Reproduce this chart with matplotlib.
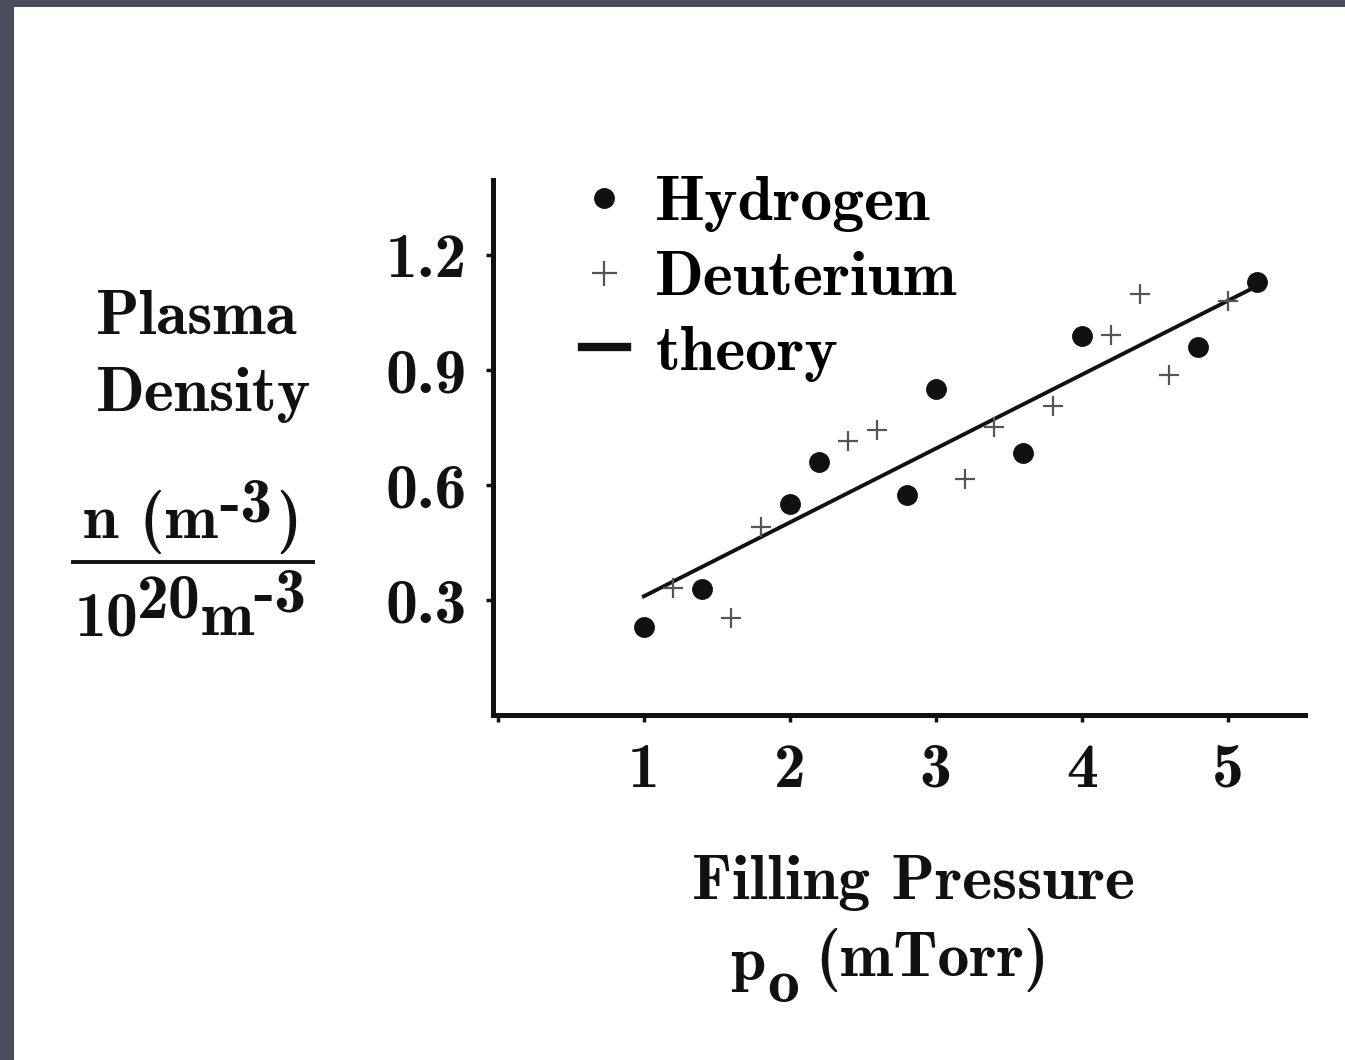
import matplotlib
matplotlib.use('Agg')
import matplotlib.pyplot as plt
from matplotlib.lines import Line2D
from matplotlib.patches import Rectangle

# data
h_x = [1.0, 1.4, 2.0, 2.2, 2.8, 3.0, 3.6, 4.0, 4.8, 5.2]
h_y = [0.23, 0.33, 0.55, 0.66, 0.575, 0.85, 0.685, 0.99, 0.96, 1.13]
d_x = [1.2, 1.6, 1.8, 2.4, 2.6, 3.2, 3.4, 3.8, 4.2, 4.4, 4.6, 5.0]
d_y = [0.332, 0.253, 0.49, 0.716, 0.744, 0.615, 0.753, 0.807, 0.993, 1.10, 0.888, 1.08]
theory_x = [1.0, 5.2]
theory_y = [0.31, 1.12]
x_ticks = [0, 1, 2, 3, 4, 5]
x_labels = ['', '1', '2', '3', '4', '5']
y_ticks = [0.3, 0.6, 0.9, 1.2]
y_labels = ['0.3', '0.6', '0.9', '1.2']

plt.rcParams['font.family'] = ['cmb10', 'DejaVu Serif']
plt.rcParams['axes.unicode_minus'] = False

W, H = 1345, 1060
fs = 46
ink = '#111111'
fig = plt.figure(figsize=(W / 100, H / 100), dpi=100)
fig.patch.set_facecolor('#4a4e5c')
# white page inside the dark frame
fig.add_artist(Rectangle((14 / W, 0), 1, 1 - 7 / H, transform=fig.transFigure,
                         facecolor='white', edgecolor='none', zorder=-10))

ax = fig.add_axes([493 / W, 1 - 715 / H, (1305 - 493) / W, (715 - 180) / H])
ax.set_facecolor('none')

ax.plot(theory_x, theory_y, color=ink, lw=2.8, label='theory', zorder=2)
ax.plot(h_x, h_y, 'o', color=ink, ms=14, label='Hydrogen', zorder=3)
ax.plot(d_x, d_y, '+', color='#555555', ms=15, mew=1.6, label='Deuterium', zorder=3)

ax.set_xlim(-0.034, 5.53)
ax.set_ylim(0, 1.397)

for s in ['top', 'right']:
    ax.spines[s].set_visible(False)
for s in ['left', 'bottom']:
    ax.spines[s].set_linewidth(3.6)
    ax.spines[s].set_color(ink)

ax.set_xticks(x_ticks)
ax.set_xticklabels(x_labels)
ax.set_yticks(y_ticks)
ax.set_yticklabels(y_labels)
ax.tick_params(axis='both', direction='out', length=5, width=2.5, color=ink,
               labelsize=fs, labelcolor=ink)
ax.tick_params(axis='x', pad=15)
ax.tick_params(axis='y', pad=14)

# legend in the order of the reference
hs, ls = ax.get_legend_handles_labels()
order = [1, 2, 0]
leg = ax.legend([hs[i] for i in order], [ls[i] for i in order], loc='upper left',
                bbox_to_anchor=(0.07, 1.068), frameon=False, fontsize=fs,
                handlelength=0.7, handletextpad=0.45, labelspacing=0.28, borderpad=0)
leg.get_lines()[2].set_linewidth(6)
leg.legend_handles[1].set_markersize(18)


# text pieces on one baseline, raised or lowered by dy pixels
def chain(x, y, pieces):
    prev = fig.text(x / W, 1 - y / H, pieces[0][0], fontsize=fs, color=ink,
                    ha='left', va='baseline')
    last_dy = 0
    for s, gap, dy in pieces[1:]:
        prev = ax.annotate(s, xy=(1, 0), xycoords=prev, xytext=(gap * 0.72, (dy - last_dy) * 0.72),
                           textcoords='offset points', fontsize=fs, color=ink,
                           ha='left', va='bottom', annotation_clip=False)
        last_dy = dy


# y label
fig.text(197 / W, 1 - 318 / H, 'Plasma', fontsize=fs, ha='center', va='center', color=ink)
fig.text(204 / W, 1 - 395 / H, 'Density', fontsize=fs, ha='center', va='center', color=ink)
chain(83, 538, [('n (m', 0, 0), ('-3', 1, 21), (')', 4, 0)])
fig.add_artist(Line2D([73 / W, 313 / W], [1 - 562 / H, 1 - 562 / H],
                      transform=fig.transFigure, color=ink, lw=2.8))
chain(75, 635, [('10', 0, 0), ('20', -2, 18), ('m', 0, 0), ('-3', 0, 23)])

# x label
fig.text(913 / W, 1 - 883 / H, 'Filling Pressure', fontsize=fs, ha='center', va='center', color=ink)
chain(730, 980, [('p', 0, 0), ('o', 2, -22), ('(mTorr)', 16, 0)])

fig.savefig('out.png', dpi=100, facecolor=fig.get_facecolor())
